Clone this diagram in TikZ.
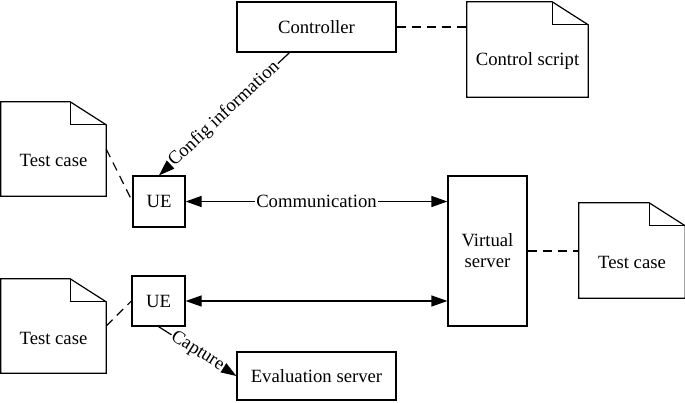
\documentclass[tikz,border=0pt]{standalone}
\usepackage{fontspec}
\setmainfont{Liberation Serif}
\usetikzlibrary{arrows.meta}
\begin{document}
\begin{tikzpicture}[x=1pt,y=-1pt,
  every node/.style={font=\fontsize{18.7}{21}\selectfont},
  box/.style={draw, line width=1.2pt, inner sep=0pt, align=center},
  conn/.style={line width=1.2pt},
  dashedconn/.style={line width=1.2pt, dash pattern=on 9pt off 6pt},
  tip/.style={-{Triangle[length=16pt,width=11pt]}},
  dtip/.style={{Triangle[length=16pt,width=11pt]}-{Triangle[length=16pt,width=11pt]}},
  lbl/.style={fill=white, inner sep=1pt}]
\useasboundingbox (0,0) rectangle (685,402);
% boxes
\node[box, minimum width=159pt, minimum height=50pt] (ctrl) at (316.5,27) {Controller};
\node[box, minimum width=52pt, minimum height=51pt] (ue1) at (159,201.5) {UE};
\node[box, minimum width=53pt, minimum height=50pt] (ue2) at (158.5,301) {UE};
\node[box, minimum width=79pt, minimum height=150pt] (vs) at (487.5,251) {Virtual\\server};
\node[box, minimum width=159pt, minimum height=48pt] (eval) at (316.5,376) {Evaluation server};
% documents
\newcommand{\docoutline}[1]{%
  \draw[line width=1.2pt, line join=miter] (#1.south west) -- (#1.north west) -- ([xshift=-36pt]#1.north east) -- ([yshift=-23pt]#1.north east) -- (#1.south east) -- cycle;
  \draw[line width=1.2pt] ([xshift=-36pt]#1.north east) |- ([yshift=-23pt]#1.north east);}
\node[minimum width=105pt, minimum height=94pt, inner sep=0pt] (tc1) at (53.5,149) {};
\node (tc1t) at ([yshift=-11pt]tc1.center) {Test case};
\node[minimum width=105pt, minimum height=94pt, inner sep=0pt] (tc3) at (53.5,326) {};
\node (tc3t) at ([yshift=-12pt]tc3.center) {Test case};
\node[minimum width=106pt, minimum height=95pt, inner sep=0pt] (tc2) at (632,250.5) {};
\node (tc2t) at ([yshift=-12pt]tc2.center) {Test case};
\node[minimum width=121pt, minimum height=95pt, inner sep=0pt] (cs) at (527.5,49.5) {};
\node (cst) at ([yshift=-12pt]cs.center) {Control script};
\docoutline{tc1}
\docoutline{tc2}
\docoutline{tc3}
\docoutline{cs}
% connectors
\draw[dashedconn] (ctrl.east) -- (ctrl.east -| cs.west);
\draw[dashedconn] (vs.east) -- (vs.east -| tc2.west);
\draw[dashedconn] (tc1.east) -- (ue1.west);
\draw[dashedconn] (tc3.east) -- (ue2.west);
\draw[conn, tip] ([xshift=-27pt]ctrl.south) -- node[lbl, sloped] {Config information} (ue1.north);
\draw[conn, dtip] (ue1.east) -- node[lbl] {Communication} (ue1.east -| vs.west);
\draw[conn, dtip] (ue2.east) -- (ue2.east -| vs.west);
\draw[conn, tip] (ue2.south) -- node[lbl, sloped] {Capture} (eval.west);
\end{tikzpicture}
\end{document}
